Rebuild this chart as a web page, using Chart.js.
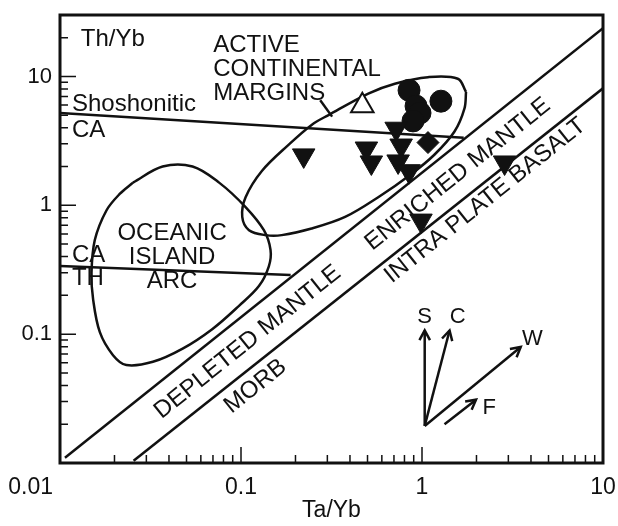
<!DOCTYPE html>
<html>
<head>
<meta charset="utf-8">
<script src="https://cdn.jsdelivr.net/npm/chart.js@4.4.1/dist/chart.umd.min.js"></script>
<style>
  html, body { margin: 0; padding: 0; background: #fff; }
  #wrap { width: 618px; height: 526px; position: relative; }
</style>
</head>
<body>
<div id="wrap"><canvas id="ta-chart"></canvas></div>
<script>
// samples (Ta/Yb, Th/Yb)
let triX = [0.222, 0.493, 0.525, 0.72, 0.767, 0.738, 0.848, 0.987, 2.86];
let triY = [2.44, 2.76, 2.15, 3.93, 2.91, 2.19, 1.84, 0.761, 2.15];
let circX = [0.848, 1.272, 0.927, 0.975, 0.892];
let circY = [7.81, 6.43, 5.89, 5.21, 4.52];
let diaX = [1.079];
let diaY = [3.07];
let openX = [0.468];
let openY = [5.93];

// fields
let acmX = [1.751, 1.717, 1.512, 1.174, 0.87, 0.573, 0.376, 0.2455, 0.168, 0.1367, 0.1107, 0.1016, 0.106, 0.1304, 0.1836, 0.2455, 0.3045, 0.505, 0.708, 1.079, 1.577, 1.751];
let acmY = [7.58, 5.66, 3.74, 2.48, 1.743, 1.155, 0.812, 0.66, 0.587, 0.587, 0.641, 0.812, 1.155, 1.848, 2.96, 4.21, 5.02, 7.37, 8.79, 9.88, 9.6, 7.58];
let oiaX = [0.0253, 0.0369, 0.054, 0.0757, 0.106, 0.1338, 0.1456, 0.1425, 0.1256, 0.0975, 0.0696, 0.0476, 0.0326, 0.02325, 0.01963, 0.0166, 0.01524, 0.01493, 0.01557, 0.01805, 0.02137, 0.0253];
let oiaY = [1.5, 2.0, 2.0, 1.5, 0.969, 0.641, 0.45, 0.336, 0.236, 0.166, 0.1098, 0.0772, 0.061, 0.0576, 0.0687, 0.1036, 0.1864, 0.2986, 0.5375, 0.912, 1.225, 1.5];

// boundary lines
let upperX = [0.01065, 10];
let upperY = [0.011, 23.7];
let lowerX = [0.0255, 10];
let lowerY = [0.0104, 8.09];
let shoX = [0.01, 1.7];
let shoY = [5.21, 3.35];
let cathX = [0.01, 0.188];
let cathY = [0.338, 0.288];
let leaderX = [0.274, 0.3187];
let leaderY = [6.55, 4.88];

// vectors S, C, W, F
let arrowNames = ["S", "C", "W", "F"];
let arrowFromX = [1.035, 1.035, 1.035, 1.332];
let arrowFromY = [0.0194, 0.0194, 0.0194, 0.02];
let arrowToX = [1.035, 1.42, 3.51, 1.988];
let arrowToY = [0.1068, 0.1068, 0.0795, 0.031];
let arrowLabelX = [1.035, 1.577, 4.07, 2.355];
let arrowLabelY = [0.135, 0.135, 0.0915, 0.0266];

// axis ticks
let xTickValues = [0.01, 0.1, 1, 10];
let xTickLabels = ["0.01", "0.1", "1", "10"];
let yTickValues = [0.1, 1, 10];
let yTickLabels = ["0.1", "1", "10"];

function pts(xs, ys) {
  return xs.map(function (x, i) { return { x: x, y: ys[i] }; });
}

let font = "'Liberation Sans', Arial, sans-serif";

// text placed on the diagram
let notes = [
  { lines: ["Th/Yb"], x: 0.01304, y: 19.55, align: "left" },
  { lines: ["ACTIVE", "CONTINENTAL", "MARGINS"], x: 0.0702, y: 17.3, align: "left" },
  { lines: ["Shoshonitic"], x: 0.01164, y: 6.1, align: "left" },
  { lines: ["CA"], x: 0.01164, y: 3.79, align: "left" },
  { lines: ["CA"], x: 0.01164, y: 0.412, align: "left" },
  { lines: ["TH"], x: 0.01164, y: 0.2686, align: "left" },
  { lines: ["OCEANIC", "ISLAND", "ARC"], x: 0.0416, y: 0.605, align: "center" },
  { lines: ["DEPLETED MANTLE"], x: 0.1088, y: 0.0868, align: "center", along: true },
  { lines: ["MORB"], x: 0.1202, y: 0.0393, align: "center", along: true },
  { lines: ["ENRICHED MANTLE"], x: 1.577, y: 1.743, align: "center", along: true },
  { lines: ["INTRA PLATE BASALT"], x: 2.236, y: 1.088, align: "center", along: true }
];

function lineSet(xs, ys, tension) {
  return {
    data: pts(xs, ys),
    showLine: true,
    borderColor: "#111",
    borderWidth: 2.5,
    pointRadius: 0,
    tension: tension || 0,
    order: 2
  };
}

let decorations = {
  id: "decorations",
  afterDatasetsDraw: function (chart) {
    let ctx = chart.ctx;
    let xs = chart.scales.x;
    let ys = chart.scales.y;
    let a = chart.chartArea;
    let px = function (v) { return xs.getPixelForValue(v); };
    let py = function (v) { return ys.getPixelForValue(v); };
    ctx.save();
    ctx.strokeStyle = "#111";
    ctx.fillStyle = "#111";
    ctx.lineCap = "butt";

    // arrow heads
    ctx.lineWidth = 2.5;
    for (let i = 0; i < arrowNames.length; i++) {
      let x0 = px(arrowFromX[i]), y0 = py(arrowFromY[i]);
      let x1 = px(arrowToX[i]), y1 = py(arrowToY[i]);
      let ang = Math.atan2(y1 - y0, x1 - x0);
      ctx.beginPath();
      ctx.moveTo(x1 - 11 * Math.cos(ang - 0.5), y1 - 11 * Math.sin(ang - 0.5));
      ctx.lineTo(x1, y1);
      ctx.lineTo(x1 - 11 * Math.cos(ang + 0.5), y1 - 11 * Math.sin(ang + 0.5));
      ctx.stroke();
      ctx.font = "22px " + font;
      ctx.textAlign = "center";
      ctx.textBaseline = "middle";
      ctx.fillText(arrowNames[i], px(arrowLabelX[i]), py(arrowLabelY[i]));
    }

    // frame
    ctx.lineWidth = 3;
    ctx.strokeRect(a.left, a.top, a.right - a.left, a.bottom - a.top);

    // ticks
    ctx.lineWidth = 1.5;
    ctx.beginPath();
    for (let d = -2; d <= 1; d++) {
      for (let k = 1; k <= 9; k++) {
        let v = k * Math.pow(10, d);
        let len = k === 1 ? 16 : 8;
        if (v > 0.01 && v < 10) {
          ctx.moveTo(px(v), a.bottom);
          ctx.lineTo(px(v), a.bottom - len);
        }
        if (v > 0.01 && v < 30) {
          ctx.moveTo(a.left, py(v));
          ctx.lineTo(a.left + len, py(v));
        }
      }
    }
    ctx.stroke();

    // tick labels
    ctx.font = "23px " + font;
    ctx.textBaseline = "middle";
    for (let i = 0; i < xTickValues.length; i++) {
      let x = px(xTickValues[i]);
      if (i === 0) {
        ctx.textAlign = "right";
        ctx.fillText(xTickLabels[i], x - 7, a.bottom + 25);
      } else {
        let w = ctx.measureText(xTickLabels[i]).width;
        ctx.textAlign = "center";
        ctx.fillText(xTickLabels[i], Math.min(x, chart.width - w / 2 - 2), a.bottom + 25);
      }
    }
    ctx.font = "22px " + font;
    ctx.textAlign = "right";
    for (let i = 0; i < yTickValues.length; i++) {
      ctx.fillText(yTickLabels[i], a.left - 8, py(yTickValues[i]));
    }
    ctx.font = "23px " + font;
    ctx.textAlign = "center";
    ctx.fillText("Ta/Yb", (a.left + a.right) / 2, a.bottom + 48);

    // field names
    let slope = Math.atan2(py(upperY[1]) - py(upperY[0]), px(upperX[1]) - px(upperX[0]));
    ctx.font = "24px " + font;
    notes.forEach(function (n) {
      ctx.save();
      ctx.translate(px(n.x), py(n.y));
      if (n.along) ctx.rotate(slope);
      ctx.textAlign = n.align;
      n.lines.forEach(function (t, j) {
        ctx.fillText(t, 0, j * 24);
      });
      ctx.restore();
    });
    ctx.restore();
  }
};

// Ta/Yb vs Th/Yb diagram
let ctx = document.getElementById("ta-chart").getContext("2d");
let taChart = new Chart(ctx, {
  type: "scatter",
  data: {
    datasets: [
      {
        data: pts(triX, triY),
        pointStyle: "triangle",
        rotation: 180,
        pointRadius: 13,
        backgroundColor: "#111",
        borderColor: "#111",
        borderWidth: 1,
        order: 0
      },
      {
        data: pts(circX, circY),
        pointStyle: "circle",
        pointRadius: 11,
        backgroundColor: "#111",
        borderColor: "#111",
        borderWidth: 1,
        order: 0
      },
      {
        data: pts(diaX, diaY),
        pointStyle: "rectRot",
        pointRadius: 11,
        backgroundColor: "#111",
        borderColor: "#111",
        borderWidth: 1,
        order: 0
      },
      {
        data: pts(openX, openY),
        pointStyle: "triangle",
        pointRadius: 13,
        backgroundColor: "#fff",
        borderColor: "#111",
        borderWidth: 2,
        order: 0
      },
      lineSet(acmX, acmY, 0.35),
      lineSet(oiaX, oiaY, 0.35),
      lineSet(upperX, upperY),
      lineSet(lowerX, lowerY),
      lineSet(shoX, shoY),
      lineSet(cathX, cathY),
      lineSet(leaderX, leaderY),
      lineSet([arrowFromX[0], arrowToX[0]], [arrowFromY[0], arrowToY[0]]),
      lineSet([arrowFromX[1], arrowToX[1]], [arrowFromY[1], arrowToY[1]]),
      lineSet([arrowFromX[2], arrowToX[2]], [arrowFromY[2], arrowToY[2]]),
      lineSet([arrowFromX[3], arrowToX[3]], [arrowFromY[3], arrowToY[3]])
    ]
  },
  options: {
    responsive: true,
    maintainAspectRatio: false,
    animation: false,
    layout: { padding: { left: 60, right: 12, top: 7, bottom: 63 } },
    plugins: {
      legend: { display: false },
      tooltip: { enabled: false }
    },
    scales: {
      x: { type: "logarithmic", min: 0.01, max: 10, display: false },
      y: { type: "logarithmic", min: 0.01, max: 30, display: false }
    }
  },
  plugins: [decorations]
});
</script>
</body>
</html>
